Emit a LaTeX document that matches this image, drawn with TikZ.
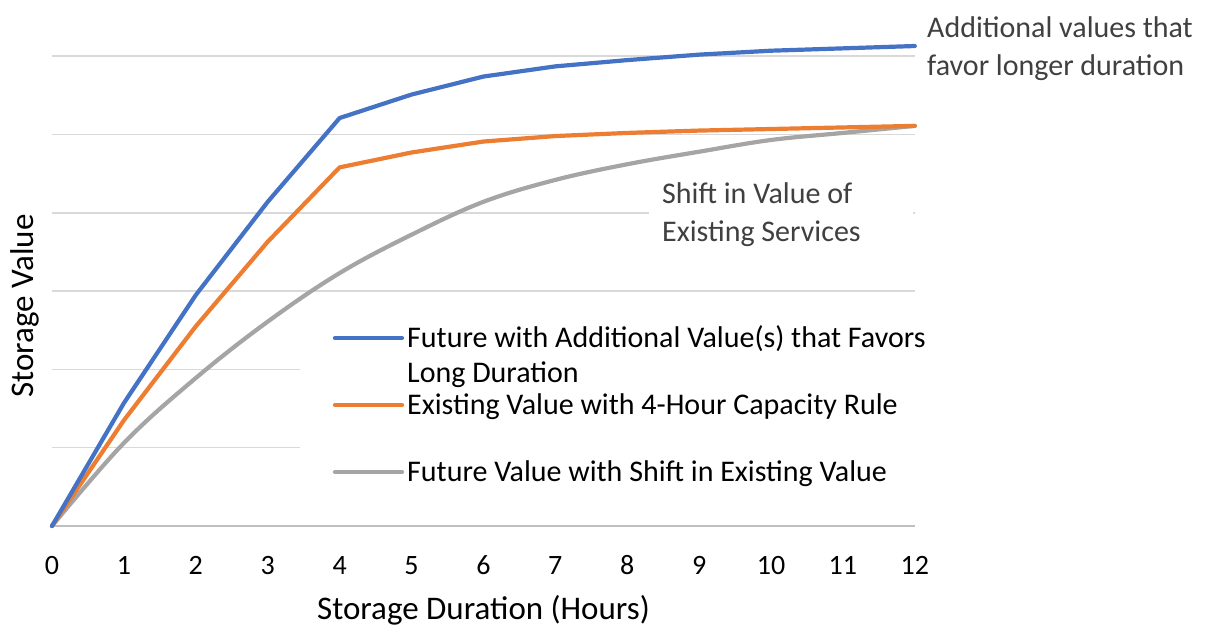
\documentclass[tikz,border=0pt]{standalone}
\usepackage{fontspec}
\setmainfont{Carlito}
\definecolor{seriesblue}{HTML}{4472C4}
\definecolor{seriesorange}{HTML}{ED7D31}
\definecolor{seriesgray}{HTML}{A5A5A5}
\definecolor{gridgray}{HTML}{D9D9D9}
\definecolor{axisgray}{HTML}{BFBFBF}
\definecolor{notegray}{HTML}{404040}
\tikzset{
  gridline/.style={gridgray, line width=1.6bp},
  curve/.style={line width=4.2bp, line cap=round, line join=round},
  whitebox/.style={fill=white, anchor=north west, inner sep=0pt},
  ticklabel/.style={anchor=base, inner sep=0pt, font=\fontsize{28bp}{34bp}\selectfont},
  legtext/.style={anchor=base west, align=left, inner sep=0pt, font=\fontsize{30bp}{35bp}\selectfont},
  note/.style={anchor=base west, align=left, inner sep=0pt, text=notegray, font=\fontsize{30bp}{38bp}\selectfont},
}

\begin{document}
\begin{tikzpicture}[x=71.9bp, y=78.3bp]
\useasboundingbox (-52bp,-100bp) rectangle (1159bp,526bp);

% grid and axis
\foreach \g in {1,...,6}
  \draw[gridline] (0,\g) -- (12,\g);
\draw[axisgray, line width=2bp] (0,0) -- (12,0);

% white boxes behind the legend and the note
\node (legbox) [whitebox, minimum width=618bp, minimum height=173bp] at (248bp,204bp) {};
\node (shiftbox) [whitebox, minimum width=264bp, minimum height=80bp] at (597bp,353bp) {};

% hour labels
\foreach \h in {0,...,12}
  \node (tick\h) [ticklabel] at ([yshift=-48bp]\h,0) {\h};

% series
\draw[curve, seriesgray] plot[smooth, tension=0.6] coordinates {(0,0) (1,1.06) (2,1.89) (3,2.61)
  (4,3.23) (5,3.72) (6,4.14) (7,4.42) (8,4.62) (9,4.78) (10,4.93) (11,5.02) (12,5.11)};
\draw[curve, seriesorange] plot coordinates {(0,0) (1,1.35) (2,2.55) (3,3.63) (4,4.58)
  (5,4.77) (6,4.91) (7,4.98) (8,5.02) (9,5.05) (10,5.07) (11,5.09) (12,5.11)};
\draw[curve, seriesblue] plot coordinates {(0,0) (1,1.57) (2,2.95) (3,4.14) (4,5.21)
  (5,5.51) (6,5.74) (7,5.87) (8,5.95) (9,6.02) (10,6.07) (11,6.10) (12,6.13)};

% legend
\node (legblue) [legtext] at (355bp,143bp) {Future with Additional Value(s) that Favors\\Long Duration};
\node (legorange) [legtext] at (355bp,111bp) {Existing Value with 4-Hour Capacity Rule};
\node (leggray) [legtext] at (355bp,44bp) {Future Value with Shift in Existing Value};
\draw[curve, seriesblue] ([xshift=-5bp,yshift=45bp]legblue.base west) -- ++(-67bp,0);
\draw[curve, seriesorange] ([xshift=-5bp,yshift=10bp]legorange.base west) -- ++(-67bp,0);
\draw[curve, seriesgray] ([xshift=-5bp,yshift=10bp]leggray.base west) -- ++(-67bp,0);

% notes
\node (addnote) [note] at (875bp,450bp) {Additional values that\\favor longer duration};
\node (shiftnote) [note] at (610bp,284bp) {Shift in Value of\\Existing Services};

% axis titles
\node (xtitle) [anchor=base, font=\fontsize{33bp}{40bp}\selectfont] at (431.5bp,-93bp) {Storage Duration (Hours)};
\node (ytitle) [anchor=base, rotate=90, font=\fontsize{33bp}{40bp}\selectfont] at (-19bp,220bp) {Storage Value};
\end{tikzpicture}
\end{document}
